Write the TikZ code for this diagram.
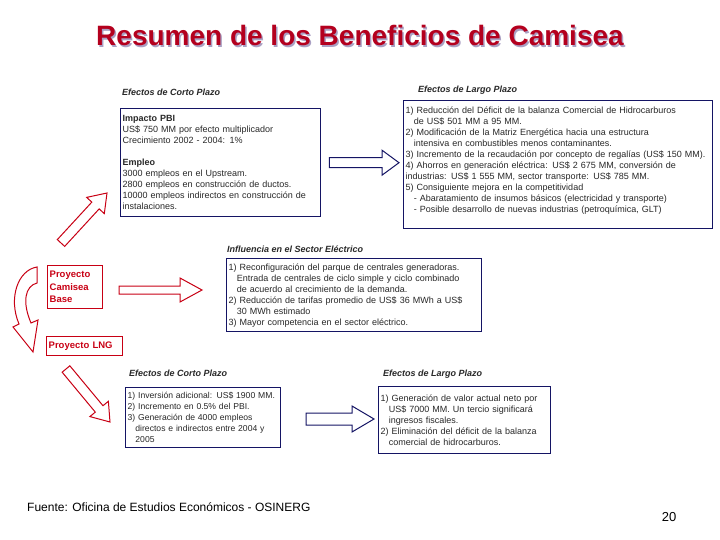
\documentclass[tikz,border=0pt]{standalone}
\usepackage{fontspec}
\setmainfont{Liberation Sans}
\usepackage{xcolor}
\definecolor{titlered}{RGB}{180, 0, 30}
\definecolor{shadowgrey}{RGB}{170, 160, 195}
\definecolor{boxnavy}{RGB}{20, 20, 100}
\definecolor{projred}{RGB}{200, 0, 20}
\definecolor{bodytext}{RGB}{40, 40, 40}
\usepackage{tikz}
\usetikzlibrary{calc, positioning}

\newcommand{\indnt}{\hspace*{0.9em}}
% hollow block arrow: [style]{tail}{tip}{half shaft}{half head}{head length}
\newcommand{\blockarrow}[6][]{%
  \coordinate (hb) at ($(#3)!#6!(#2)$);
  \draw[#1] ($(#2)!#4!90:(#3)$) -- ($(hb)!#4!90:(#3)$) -- ($(hb)!#5!90:(#3)$)
    -- (#3) -- ($(hb)!#5!-90:(#3)$) -- ($(hb)!#4!-90:(#3)$)
    -- ($(#2)!#4!-90:(#3)$) -- cycle;}

\tikzset{
  infobox/.style={draw=boxnavy, line width=1.4pt, fill=white, anchor=north west, align=left,
    inner xsep=2pt, inner ysep=2.5pt, text=bodytext, font=\fontsize{9}{11}\selectfont},
  projbox/.style={draw=projred, line width=1.4pt, anchor=north west, align=left,
    inner xsep=2pt, inner ysep=2pt, text=projred, font=\fontsize{9.5}{12.5}\selectfont\bfseries},
  boxhead/.style={anchor=base west, inner sep=0pt, text=bodytext,
    font=\fontsize{9}{11}\selectfont\bfseries\itshape},
  navyarrow/.style={draw=boxnavy, fill=white, line width=1pt},
  redarrow/.style={draw=projred, fill=white, line width=1pt},
}

\begin{document}
\begin{tikzpicture}[x=1pt, y=-1pt]
    \useasboundingbox (0,0) rectangle (720,540);

    % title with its shadow
    \node[font=\fontsize{28}{30}\selectfont\bfseries, text=shadowgrey] (titleshadow) at (361.5,37) {Resumen de los Beneficios de Camisea};
    \node[font=\fontsize{28}{30}\selectfont\bfseries, text=titlered] (title) at (360,35) {Resumen de los Beneficios de Camisea};

    % project boxes
    \node[projbox, text width=51pt, minimum height=43pt] (base) at (47,265) {Proyecto\\Camisea\\Base};
    \node[projbox, text width=72pt, minimum height=19pt] (lng) at (46,336) {Proyecto LNG};

    % short term, base project
    \node[boxhead] (h1) at (122,96) {Efectos de Corto Plazo};
    \node[infobox, text width=196pt, minimum height=108pt] (b1) at (120,108) {%
        \textbf{Impacto PBI}\\
        US\$ 750 MM por efecto multiplicador\\
        Crecimiento 2002 - 2004: 1\%\\[11pt]
        \textbf{Empleo}\\
        3000 empleos en el Upstream.\\
        2800 empleos en construcción de ductos.\\
        10000 empleos indirectos en construcción de\\
        instalaciones.};

    % long term, base project
    \node[boxhead] (h2) at (418,93) {Efectos de Largo Plazo};
    \node[infobox, text width=305pt, minimum height=128pt] (b2) at (403,100) {%
        1) Reducción del Déficit de la balanza Comercial de Hidrocarburos\\
        \indnt de US\$ 501 MM a 95 MM.\\
        2) Modificación de la Matriz Energética hacia una estructura\\
        \indnt intensiva en combustibles menos contaminantes.\\
        3) Incremento de la recaudación por concepto de regalías (US\$ 150 MM).\\
        4) Ahorros en generación eléctrica: US\$ 2 675 MM, conversión de\\
        industrias: US\$ 1 555 MM, sector transporte: US\$ 785 MM.\\
        5) Consiguiente mejora en la competitividad\\
        \indnt - Abaratamiento de insumos básicos (electricidad y transporte)\\
        \indnt - Posible desarrollo de nuevas industrias (petroquímica, GLT)\\
        \mbox{}};

    % electric sector
    \node[boxhead] (h3) at (227,252) {Influencia en el Sector Eléctrico};
    \node[infobox, text width=251pt, minimum height=73pt] (b3) at (226,258) {%
        1) Reconfiguración del parque de centrales generadoras.\\
        \indnt Entrada de centrales de ciclo simple y ciclo combinado\\
        \indnt de acuerdo al crecimiento de la demanda.\\
        2) Reducción de tarifas promedio de US\$ 36 MWh a US\$\\
        \indnt 30 MWh estimado\\
        3) Mayor competencia en el sector eléctrico.};

    % short term, LNG
    \node[boxhead] (h4) at (129,376) {Efectos de Corto Plazo};
    \node[infobox, text width=151pt, minimum height=60pt, font=\fontsize{8.6}{11}\selectfont] (b4) at (125,387) {%
        1) Inversión adicional: US\$ 1900 MM.\\
        2) Incremento en 0.5\% del PBI.\\
        3) Generación de 4000 empleos\\
        \indnt directos e indirectos entre 2004 y\\
        \indnt 2005};

    % long term, LNG
    \node[boxhead] (h5) at (383,376) {Efectos de Largo Plazo};
    \node[infobox, text width=168pt, minimum height=67pt] (b5) at (378,386) {%
        1) Generación de valor actual neto por\\
        \indnt US\$ 7000 MM. Un tercio significará\\
        \indnt ingresos fiscales.\\
        2) Eliminación del déficit de la balanza\\
        \indnt comercial de hidrocarburos.};

    % arrow ends
    \coordinate (up0) at (61,243);
    \coordinate (up1) at (107,193);
    \coordinate (el0) at (119,290);
    \coordinate (el1) at (202,290);
    \coordinate (dn0) at (66,369);
    \coordinate (dn1) at (110,422);
    \coordinate (s0) at ([xshift=8pt]b1.east);
    \coordinate (s1) at ([xshift=-4pt]b2.west |- s0);
    \coordinate (l0) at (306,419);
    \coordinate (l1) at (374,419);

    \blockarrow[redarrow]{up0}{up1}{5pt}{12pt}{17pt}
    \blockarrow[redarrow]{el0}{el1}{4pt}{12pt}{22pt}
    \blockarrow[redarrow]{dn0}{dn1}{5pt}{12pt}{17pt}
    \blockarrow[navyarrow]{s0}{s1}{5pt}{12.5pt}{17pt}
    \blockarrow[navyarrow]{l0}{l1}{6pt}{13pt}{22pt}

    % curved arrow from base project to LNG
    \draw[redarrow] (37,267) .. controls (18,270) and (8,298) .. (19,324) -- (13,327) -- (33,352)
        -- (38,320) -- (31,323) .. controls (22,302) and (25,286) .. (37,283) -- cycle;

    % footer
    \node[anchor=base west, inner sep=0pt, font=\fontsize{12}{14}\selectfont] (source) at (27,511) {Fuente: Oficina de Estudios Económicos - OSINERG};
    \node[inner sep=0pt, font=\fontsize{13}{15}\selectfont] (pagenum) at (669,517) {20};
\end{tikzpicture}
\end{document}
